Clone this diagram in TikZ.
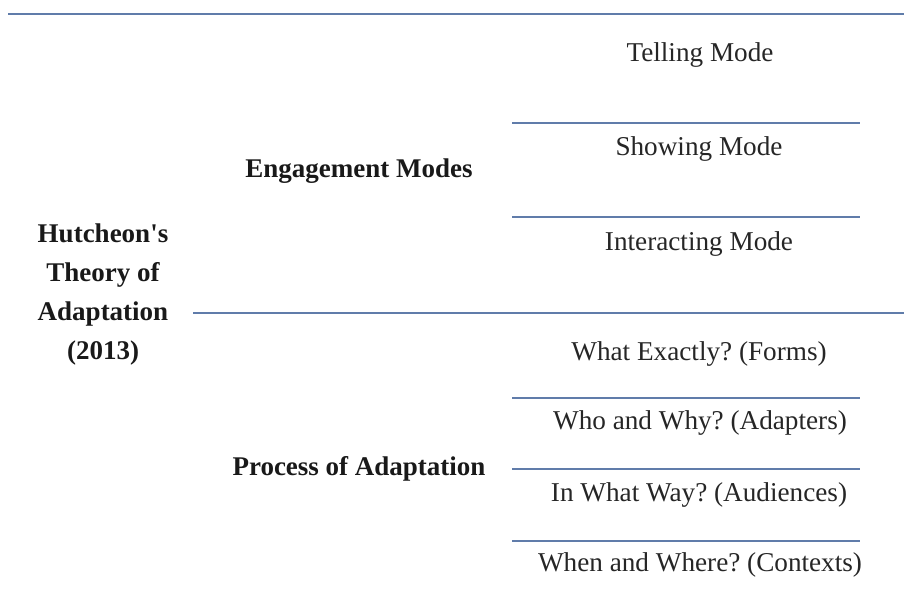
\documentclass[tikz,border=0pt]{standalone}
\usepackage{fontspec}
\setmainfont{Liberation Serif}
\definecolor{rule}{RGB}{96,124,170}
\frenchspacing
\begin{document}
\begin{tikzpicture}[x=1pt,y=-1pt,
  rulel/.style={draw=rule,line width=2pt},
  lbl/.style={font=\fontsize{27.2}{30}\selectfont,text=black!85,inner sep=0pt,anchor=center},
  head/.style={font=\fontsize{27}{39}\selectfont\bfseries,text=black!90,inner sep=0pt,anchor=center,align=center}]
\useasboundingbox[fill=white] (0,0) rectangle (904,607);
% rules
\coordinate (t0) at (8,14);
\coordinate (t1) at (904,14);
\coordinate (m0) at (193,313);
\coordinate (m1) at (904,313);
\foreach \n/\y in {a/123,b/217,c/398,d/469,e/541}{
  \coordinate (\n0) at (512,\y);
  \coordinate (\n1) at (860,\y);
}
\draw[rulel] (t0) -- (t1);
\draw[rulel] (m0) -- (m1);
\foreach \n in {a,b,c,d,e}{\draw[rulel] (\n0) -- (\n1);}
% texts
\node[head] (root) at (103,295) {Hutcheon\textquotesingle s\\Theory of\\Adaptation\\(2013)};
\node[head] (eng) at (359,171) {Engagement Modes};
\node[head] (proc) at (359,469) {Process of Adaptation};
\node[lbl] (tell) at (700,55) {Telling Mode};
\node[lbl] (show) at (699,149) {Showing Mode};
\node[lbl] (inter) at (699,244) {Interacting Mode};
\node[lbl] (what) at (699,354) {What Exactly? (Forms)};
\node[lbl] (who) at (700,423) {Who and Why? (Adapters)};
\node[lbl] (way) at (699,495) {In What Way? (Audiences)};
\node[lbl] (when) at (700,565) {When and Where? (Contexts)};
\end{tikzpicture}
\end{document}
